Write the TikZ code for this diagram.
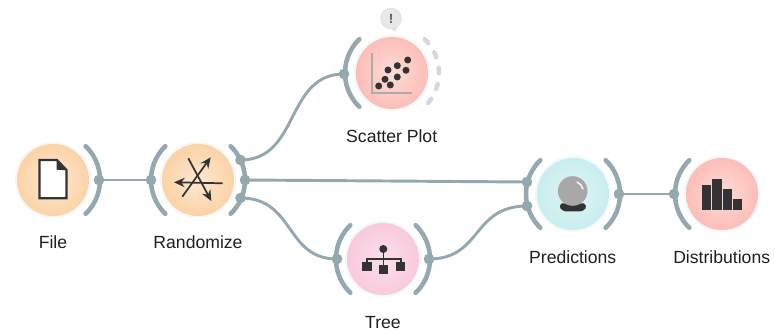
\documentclass[tikz,border=0pt]{standalone}
\usepackage{fontspec}
\setmainfont{Liberation Sans}
\usetikzlibrary{arrows.meta}
\definecolor{conn}{HTML}{94A8B0}
\definecolor{dashc}{HTML}{D3DADE}
\definecolor{ink}{HTML}{333333}
\definecolor{halo}{HTML}{F6F7F8}
\definecolor{orangein}{HTML}{FDE8D2}
\definecolor{orangeout}{HTML}{FCD3A6}
\definecolor{redin}{HTML}{FDDDD9}
\definecolor{redout}{HTML}{FDBDB7}
\definecolor{pinkin}{HTML}{FBE0EB}
\definecolor{pinkout}{HTML}{F9C9DC}
\definecolor{cyanin}{HTML}{E0F4F5}
\definecolor{cyanout}{HTML}{C8EEF0}
\tikzset{
  widget/.style={circle,minimum size=54pt,inner sep=0pt,outer sep=0pt},
  orangew/.style={widget,inner color=orangein,outer color=orangeout},
  redw/.style={widget,inner color=redin,outer color=redout},
  pinkw/.style={widget,inner color=pinkin,outer color=pinkout},
  cyanw/.style={widget,inner color=cyanin,outer color=cyanout},
  port/.style={circle,fill=conn,minimum size=8pt,inner sep=0pt,outer sep=0pt},
  link/.style={draw=conn,line width=2.2pt},
  chan/.style={draw=conn,line width=3.4pt,line cap=round},
  ghost/.style={draw=dashc,line width=3.4pt,line cap=round,dash pattern=on 4pt off 8.2pt},
  lbl/.style={font=\fontsize{13.2}{15}\selectfont,text=black!88,inner sep=0pt},
  arrowicon/.style={draw=ink,line width=1.3pt,-{Stealth[length=8pt,width=7pt]}}
}
\newcommand{\leftchan}[1]{\draw[chan] ([shift={(134:47)}]#1.center) arc[start angle=134,end angle=226,radius=47];}
\newcommand{\rightchan}[1]{\draw[chan] ([shift={(-46:47)}]#1.center) arc[start angle=-46,end angle=46,radius=47];}
\begin{document}
\begin{tikzpicture}[x=0.75pt,y=-0.75pt]
\useasboundingbox (0,0) rectangle (775,331);
% halos
\foreach \p in {(53,180),(198,180),(392,73),(383,259),(573,194),(722,194)}
  \fill[halo] \p circle[radius=38];
% widgets
\node[orangew] (file) at (53,180) {};
\node[orangew] (rand) at (198,180) {};
\node[redw] (scatter) at (392,73) {};
\node[pinkw] (tree) at (383,259) {};
\node[cyanw] (pred) at (573,194) {};
\node[redw] (dist) at (722,194) {};
% channels
\rightchan{file}
\leftchan{rand}
\rightchan{rand}
\leftchan{scatter}
\draw[ghost] ([shift={(-46:47)}]scatter.center) arc[start angle=-46,end angle=46,radius=47];
\leftchan{tree}
\rightchan{tree}
\leftchan{pred}
\rightchan{pred}
\leftchan{dist}
% ports
\node[port] (fileout) at (99,180) {};
\node[port] (randin) at (151,180) {};
\node[port] (randa) at (240.5,160) {};
\node[port] (randb) at (245,180) {};
\node[port] (randc) at (240.5,198) {};
\node[port] (scatin) at (344,74) {};
\node[port] (treein) at (337,259) {};
\node[port] (treeout) at (429,259) {};
\node[port] (predina) at (527,182) {};
\node[port] (predinb) at (527,206) {};
\node[port] (predout) at (619,194) {};
\node[port] (distin) at (674,194) {};
% connectors
\draw[link] (fileout) -- (randin);
\draw[link] (randa.center) .. controls (300,160) and (285,74) .. (scatin.center);
\draw[link] (randb.center) -- (predina.center);
\draw[link] (randc.center) .. controls (295,198) and (285,259) .. (treein.center);
\draw[link] (treeout.center) .. controls (482,259) and (472,206) .. (predinb.center);
\draw[link] (predout) -- (distin);
% File icon
\draw[draw=ink,fill=white,line width=1.6pt,line join=miter] (39.5,160) -- (57,160) -- (66.5,170) -- (66.5,198.3) -- (39.5,198.3) -- cycle;
\fill[ink] (56.5,159.5) -- (56.5,169.7) -- (67,170.3) -- cycle;
% Randomize icon
\draw[arrowicon] (182.3,196.7) -- (210.7,157.3);
\draw[arrowicon] (222.7,183.3) -- (174,182.3);
\draw[arrowicon] (188.3,158.3) -- (211.3,201);
% Scatter icon
\draw[draw=black!33,line width=1.6pt] (371.7,53.3) -- (371.7,93.3) -- (411.7,93.3);
\foreach \p in {(378.7,86),(390.3,85),(385,79.3),(397.3,77),(388,70),(397.3,65.7),(406,70.3),(407.7,60)}
  \fill[ink] \p circle[radius=3.5];
% warning bubble
\fill[black!12] (385,26) -- (396,31.5) -- (397,26) -- cycle;
\node[circle,fill=black!9,draw=black!14,line width=.4pt,minimum size=15.5pt,inner sep=0pt,font=\fontsize{10}{10}\bfseries\selectfont,text=black!65] (warn) at (391,18.5) {!};
% Tree icon
\draw[draw=ink,line width=1.2pt] (383.3,249) -- (383.3,269) (367,267) -- (367,259) -- (400.7,259) -- (400.7,267);
\fill[ink] (383.3,249) circle[radius=4];
\fill[ink] (362.3,262.5) rectangle (371.7,271.5);
\fill[ink] (379,264.8) rectangle (388.4,273.8);
\fill[ink] (396,262.5) rectangle (405.4,271.5);
% Predictions icon
\fill[ink] (561.5,203.5) -- (584,203.5) .. controls (588,206) and (586,211.5) .. (578,211.5) -- (568,211.5) .. controls (560,211.5) and (558,206) .. (561.5,203.5) -- cycle;
\fill[black!34] (572.7,191) circle[radius=14.8];
\draw[white,line width=1pt,line cap=round] (577,182) .. controls (580,183) and (582,186) .. (583,189);
% Distributions icon
\fill[ink] (702.3,184.7) rectangle (711.3,210);
\fill[ink] (712.3,178.7) rectangle (721.7,210);
\fill[ink] (723,188.7) rectangle (732,210);
\fill[ink] (733,199) rectangle (742,210);
% labels
\node[lbl] (lfile) at (53,242) {File};
\node[lbl] (lrand) at (198,242) {Randomize};
\node[lbl] (lscat) at (391.7,136.7) {Scatter Plot};
\node[lbl] (ltree) at (383,322.5) {Tree};
\node[lbl] (lpred) at (572.7,257) {Predictions};
\node[lbl] (ldist) at (721.7,257) {Distributions};
\end{tikzpicture}
\end{document}
